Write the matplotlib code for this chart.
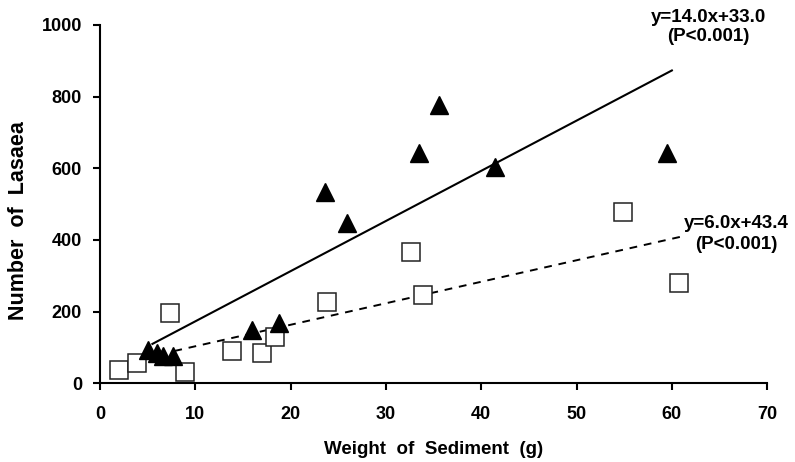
import matplotlib.pyplot as plt
import numpy as np

plt.rcParams['font.family'] = ['Liberation Sans', 'DejaVu Sans']

# Lasaea counts vs sediment weight, two sample groups
tri_x = [5.0, 6.0, 6.6, 7.7, 15.9, 18.8, 23.6, 25.9, 33.5, 35.6, 41.4, 59.5]
tri_y = [93, 85, 76, 76, 149, 168, 535, 447, 643, 778, 605, 643]

sq_x = [2.0, 3.9, 7.3, 8.9, 13.9, 17.0, 18.4, 23.8, 32.6, 33.9, 54.9, 60.8]
sq_y = [37, 57, 196, 32, 90, 84, 130, 228, 367, 247, 478, 280]

# fitted regressions: slope, intercept, x range
fit_tri = (14.0, 33.0, 5.5, 60.0)
fit_sq = (6.0, 43.4, 7.8, 61.0)

xticks = np.arange(0, 71, 10)
yticks = np.arange(0, 1001, 200)

fig = plt.figure(figsize=(7.95, 4.62), dpi=100)
ax = fig.add_axes([0.1258, 0.1703, 0.8392, 0.7757])

def fit_line(fit, **kw):
    m, b, x0, x1 = fit
    xs = np.array([x0, x1])
    ax.plot(xs, m * xs + b, color='black', **kw)

fit_line(fit_tri, lw=1.5, zorder=2)
fit_line(fit_sq, lw=1.4, linestyle=(0, (4, 3.5)), zorder=2)

ax.plot(sq_x, sq_y, 's', ms=13, mfc='white', mec='#222222', mew=1.1, zorder=3)
ax.plot(tri_x, tri_y, '^', ms=12.5, color='black', zorder=4)

ax.set_xlim(0, 70)
ax.set_ylim(0, 1000)
ax.set_xticks(xticks)
ax.set_yticks(yticks)
for s in ['top', 'right']:
    ax.spines[s].set_visible(False)
for s in ['left', 'bottom']:
    ax.spines[s].set_linewidth(1.5)
ax.tick_params(width=1.5, length=5, labelsize=13)
ax.tick_params(axis='x', pad=11)
ax.tick_params(axis='y', pad=8)
for lab in ax.get_xticklabels() + ax.get_yticklabels():
    lab.set_fontweight('bold')

ax.set_xlabel('Weight  of  Sediment  (g)', fontsize=13.5, fontweight='bold', labelpad=13)
ax.set_ylabel('Number  of  Lasaea', fontsize=15.5, fontweight='bold', labelpad=10)
ax.yaxis.set_label_coords(-0.106, 0.455)

ax.text(63.8, 995, 'y=14.0x+33.0\n(P<0.001)', ha='center', va='center',
        fontsize=13.5, fontweight='bold', linespacing=1.15, clip_on=False)
ax.text(66.8, 416, 'y=6.0x+43.4\n(P<0.001)', ha='center', va='center',
        fontsize=13.5, fontweight='bold', linespacing=1.3, clip_on=False)

fig.savefig('out.png', dpi=100)
